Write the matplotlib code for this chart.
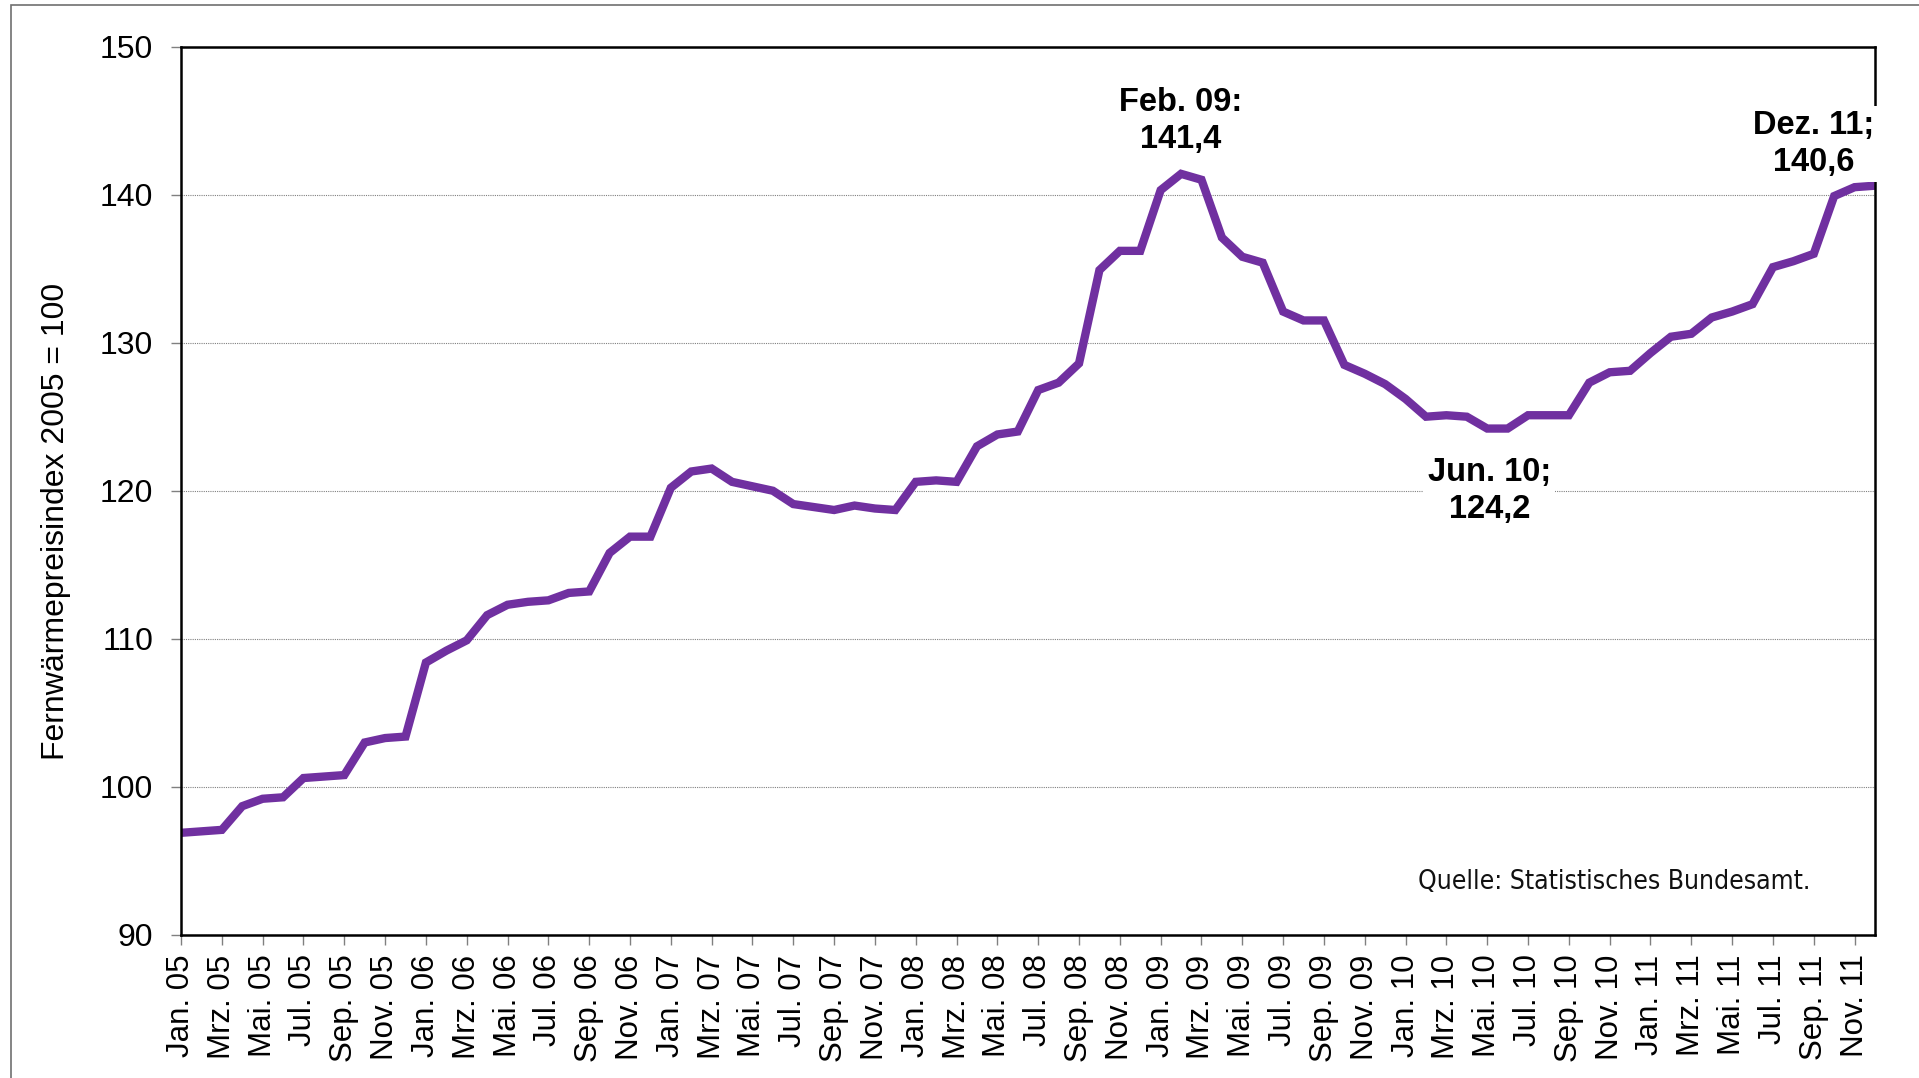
import matplotlib
matplotlib.use("Agg")
import matplotlib.pyplot as plt
from matplotlib.patches import Rectangle

# ---------------- data ----------------
month_abbr = ["Jan.", "Feb.", "Mrz.", "Apr.", "Mai.", "Jun.",
              "Jul.", "Aug.", "Sep.", "Okt.", "Nov.", "Dez."]
years = ["05", "06", "07", "08", "09", "10", "11"]
categories = [f"{m} {y}" for y in years for m in month_abbr]

index_2005 = [96.9, 97.0, 97.1, 98.7, 99.2, 99.3, 100.6, 100.7, 100.8, 103.0, 103.3, 103.4]
index_2006 = [108.4, 109.2, 109.9, 111.6, 112.3, 112.5, 112.6, 113.1, 113.2, 115.8, 116.9, 116.9]
index_2007 = [120.2, 121.3, 121.5, 120.6, 120.3, 120.0, 119.1, 118.9, 118.7, 119.0, 118.8, 118.7]
index_2008 = [120.6, 120.7, 120.6, 123.0, 123.8, 124.0, 126.8, 127.3, 128.6, 134.9, 136.2, 136.2]
index_2009 = [140.3, 141.4, 141.0, 137.1, 135.8, 135.4, 132.1, 131.5, 131.5, 128.5, 127.9, 127.2]
index_2010 = [126.2, 125.0, 125.1, 125.0, 124.2, 124.2, 125.1, 125.1, 125.1, 127.3, 128.0, 128.1]
index_2011 = [129.3, 130.4, 130.6, 131.7, 132.1, 132.6, 135.1, 135.5, 136.0, 139.9, 140.5, 140.6]
values = (index_2005 + index_2006 + index_2007 + index_2008 +
          index_2009 + index_2010 + index_2011)

y_ticks = [90, 100, 110, 120, 130, 140, 150]
y_label = "Fernwärmepreisindex 2005 = 100"
source_note = "Quelle: Statistisches Bundesamt."

# annotated points: (category, separator)
highlights = [("Feb. 09", ":"), ("Jun. 10", ";"), ("Dez. 11", ";")]

# ---------------- figure ----------------
W, H = 1919, 1078
fig = plt.figure(figsize=(W / 100, H / 100), dpi=100)
fig.patch.set_facecolor("white")

# outer frame
fig.patches.append(Rectangle((11 / W, -0.05), 1.2, 1 - 5 / H + 0.05,
                             transform=fig.transFigure, fill=False,
                             edgecolor="#707070", linewidth=1.2))

left, right, top, bottom = 181, 1875, 46.5, 935
ax = fig.add_axes([left / W, 1 - bottom / H, (right - left) / W, (bottom - top) / H])

x = list(range(len(values)))
ax.plot(x, values, color="#7030A0", linewidth=6.0, solid_joinstyle="miter",
        solid_capstyle="butt", zorder=2)

ax.set_xlim(0, len(values) - 1)
ax.set_ylim(y_ticks[0], y_ticks[-1])
ax.set_yticks(y_ticks)
ax.set_xticks(x[::2])
ax.set_xticklabels(categories[::2], rotation=90, fontfamily="Liberation Sans",
                   fontsize=22.5)
ax.set_yticklabels([str(v) for v in y_ticks], fontfamily="Liberation Sans",
                   fontsize=23)

ax.tick_params(axis="both", direction="out", length=7, width=1, color="#808080")
ax.tick_params(axis="y", pad=13)
ax.tick_params(axis="x", pad=7)

ax.grid(axis="y", color="#808080", linestyle=(0, (1, 1)), linewidth=0.8, zorder=1)
ax.set_axisbelow(True)
for s in ax.spines.values():
    s.set_color("black")
    s.set_linewidth(1.8)

# y label
fig.text(56 / W, 1 - 521 / H, y_label, rotation=90, ha="center", va="center",
         fontfamily="Liberation Sans", fontsize=23)

# annotations
ann_pos = {
    "Feb. 09": (0.0, 145.0, "center"),
    "Jun. 10": (-0.9, 120.0, "center"),
    "Dez. 11": (-3.0, 143.4, "center"),
}
for name, sep in highlights:
    i = categories.index(name)
    dx, ty, ha = ann_pos[name]
    label = f"{name}{sep}\n" + f"{values[i]:.1f}".replace(".", ",")
    ax.text(i + dx, ty, label, ha=ha, va="center", multialignment="center",
            fontfamily="Liberation Sans", fontweight="bold", fontsize=23.5,
            linespacing=1.25, zorder=5, clip_on=False,
            bbox=dict(facecolor="white", edgecolor="none", pad=3))

# source note (condensed face)
ax.text(0.962, 0.0597, source_note, transform=ax.transAxes, ha="right",
        va="center", fontfamily=["Liberation Sans Narrow", "DejaVu Sans"],
        fontstretch="condensed", fontsize=19, color="#111111")

fig.savefig("out.png", dpi=100, facecolor="white")
